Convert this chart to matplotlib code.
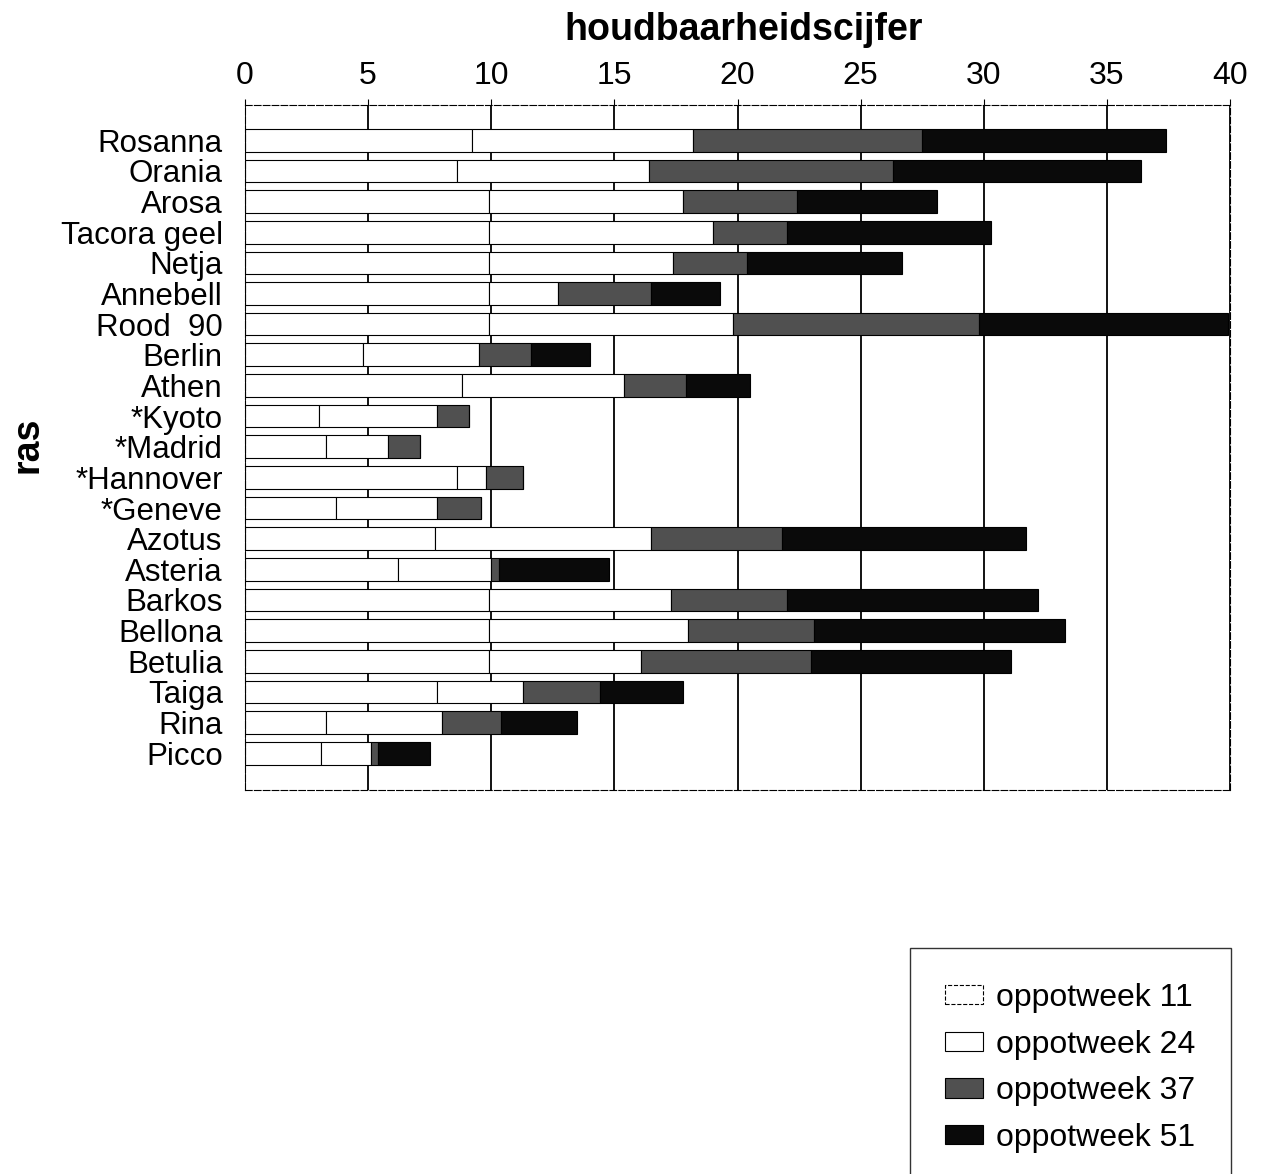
import numpy as np
import matplotlib
matplotlib.use('Agg')
import matplotlib.pyplot as plt
from matplotlib.patches import Patch

plt.rcParams['font.family'] = ['Liberation Sans', 'DejaVu Sans']

rassen = ['Rosanna', 'Orania', 'Arosa', 'Tacora geel', 'Netja', 'Annebell',
          'Rood  90', 'Berlin', 'Athen', '*Kyoto', '*Madrid', '*Hannover',
          '*Geneve', 'Azotus', 'Asteria', 'Barkos', 'Bellona', 'Betulia',
          'Taiga', 'Rina', 'Picco']

# houdbaarheid per oppotweek (gestapeld)
week11 = [9.2, 8.6, 9.9, 9.9, 9.9, 9.9, 9.9, 4.8, 8.8, 3.0, 3.3, 8.6,
          3.7, 7.7, 6.2, 9.9, 9.9, 9.9, 7.8, 3.3, 3.1]
week24 = [9.0, 7.8, 7.9, 9.1, 7.5, 2.8, 9.9, 4.7, 6.6, 4.8, 2.5, 1.2,
          4.1, 8.8, 3.8, 7.4, 8.1, 6.2, 3.5, 4.7, 2.0]
week37 = [9.3, 9.9, 4.6, 3.0, 3.0, 3.8, 10.0, 2.1, 2.5, 1.3, 1.3, 1.5,
          1.8, 5.3, 0.3, 4.7, 5.1, 6.9, 3.1, 2.4, 0.3]
week51 = [9.9, 10.1, 5.7, 8.3, 6.3, 2.8, 10.1, 2.4, 2.6, 0, 0, 0,
          0, 9.9, 4.5, 10.2, 10.2, 8.1, 3.4, 3.1, 2.1]

series = [week11, week24, week37, week51]
labels = ['oppotweek 11', 'oppotweek 24', 'oppotweek 37', 'oppotweek 51']
kleuren = ['white', 'white', '#505050', '#0a0a0a']

fig = plt.figure(figsize=(12.68, 11.74), dpi=100)
ax = fig.add_axes([245/1268, 1-790/1174, (1230-245)/1268, (790-105)/1174])

y = np.arange(len(rassen))
left = np.zeros(len(rassen))
for vals, kleur, lab in zip(series, kleuren, labels):
    vals = np.array(vals)
    ax.barh(y, vals, left=left, height=0.74, color=kleur, edgecolor='black',
            linewidth=0.8, zorder=2, label=lab)
    left += vals

ax.set_xlim(0, 40)
ax.set_ylim(len(rassen) - 1 + 1.2, -1.15)
ax.set_yticks(y)
ax.set_yticklabels(rassen, fontsize=22.5)
ax.xaxis.tick_top()
ax.set_xticks(np.arange(0, 41, 5))
ax.tick_params(axis='x', labelsize=23, length=4, pad=6)
ax.tick_params(axis='y', length=0, pad=16)
ax.xaxis.grid(True, color='black', linewidth=1.3, zorder=0)
ax.set_axisbelow(True)
for sp in ax.spines.values():
    sp.set_linewidth(0.8)
    sp.set_linestyle((0, (6, 2)))

fig.text(744/1268, 1-30/1174, 'houdbaarheidscijfer', fontsize=27,
         fontweight='bold', ha='center', va='center')
fig.text(28/1268, 1-445/1174, 'ras', fontsize=27, fontweight='bold',
         rotation=90, ha='center', va='center')

handles = [Patch(facecolor='white', edgecolor='black', linestyle='--', linewidth=0.8),
           Patch(facecolor='white', edgecolor='black', linewidth=0.8),
           Patch(facecolor='#505050', edgecolor='black', linewidth=0.8),
           Patch(facecolor='#0a0a0a', edgecolor='black', linewidth=0.8)]
leg = fig.legend(handles, labels, loc='upper left',
                 bbox_to_anchor=(910/1268, 1-948/1174), fontsize=23,
                 frameon=True, fancybox=False, edgecolor='black',
                 handlelength=1.2, handleheight=0.55, handletextpad=0.4,
                 labelspacing=0.52, borderpad=1.1, borderaxespad=0)
leg.get_frame().set_linewidth(1.0)

fig.savefig('out.png', dpi=100)
